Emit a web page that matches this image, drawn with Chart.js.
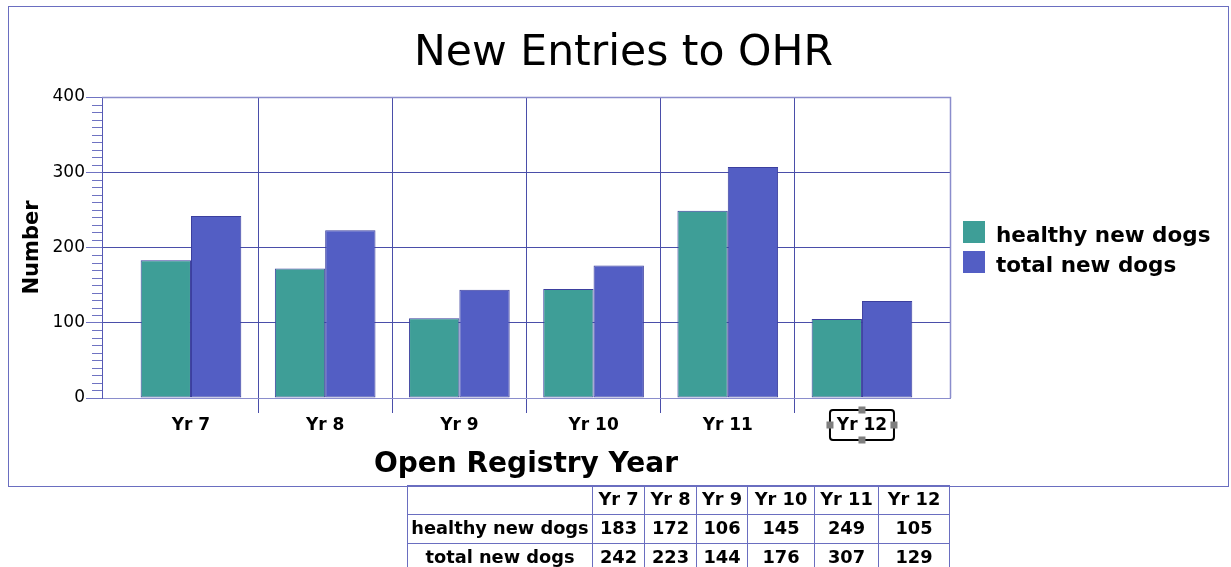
<!DOCTYPE html>
<html>
<head>
<meta charset="utf-8">
<title>New Entries to OHR</title>
<script src="https://cdn.jsdelivr.net/npm/chart.js@4.4.1/dist/chart.umd.min.js"></script>
<style>
  html, body { margin: 0; padding: 0; background: #fff; overflow: hidden; }
  body { width: 1231px; height: 567px; position: relative; font-family: "DejaVu Sans", Verdana, sans-serif; }
  #chart { position: absolute; left: 0; top: 0; }
  #frame {
    position: absolute; left: 8px; top: 6px; width: 1221px; height: 481px;
    box-sizing: border-box; border: 1px solid #6a6ec0; pointer-events: none;
  }
  #dataTable {
    position: absolute; left: 407px; top: 485px;
    border-collapse: collapse; table-layout: fixed;
    font: bold 17.8px "DejaVu Sans", Verdana, sans-serif; color: #000;
  }
  #dataTable td {
    border: 1px solid #6a6ec0; height: 25px; padding: 0 0 3px 0;
    text-align: center; white-space: nowrap;
  }
</style>
</head>
<body>
<canvas id="chart" width="1231" height="487"></canvas>
<div id="frame"></div>
<table id="dataTable"></table>
<script>
// data
const years = ['Yr 7', 'Yr 8', 'Yr 9', 'Yr 10', 'Yr 11', 'Yr 12'];
const healthyNewDogs = [183, 172, 106, 145, 249, 105];
const totalNewDogs = [242, 223, 144, 176, 307, 129];
const seriesNames = ['healthy new dogs', 'total new dogs'];
const yMin = 0, yMax = 400, yStep = 100, yMinorStep = 10;

const GRID = '#4a4ea9';
const FRAME = '#8a8dcc';
const tableColWidths = [185, 52, 52, 51, 67, 64, 71];

// build the data table under the chart
function buildTable() {
  const table = document.getElementById('dataTable');
  const cg = document.createElement('colgroup');
  tableColWidths.forEach(w => {
    const c = document.createElement('col');
    c.style.width = w + 'px';
    cg.appendChild(c);
  });
  table.appendChild(cg);
  const rows = [[''].concat(years), [seriesNames[0]].concat(healthyNewDogs), [seriesNames[1]].concat(totalNewDogs)];
  rows.forEach(r => {
    const tr = document.createElement('tr');
    r.forEach(v => {
      const td = document.createElement('td');
      td.textContent = v;
      tr.appendChild(td);
    });
    table.appendChild(tr);
  });
}
buildTable();

// plot frame, minor y ticks, legend and the selection box round the last label
const decorations = {
  id: 'decorations',
  beforeDatasetsDraw(chart) {
    const { ctx, chartArea: a } = chart;
    ctx.save();
    ctx.strokeStyle = FRAME;
    ctx.lineWidth = 1.5;
    ctx.beginPath();
    ctx.moveTo(a.left, a.top + 0.5);
    ctx.lineTo(a.right + 0.5, a.top + 0.5);
    ctx.lineTo(a.right + 0.5, a.bottom);
    ctx.stroke();
    ctx.restore();
  },
  afterDraw(chart) {
    const { ctx, chartArea: a } = chart;
    const ys = chart.scales.y, xs = chart.scales.x;
    ctx.save();
    ctx.strokeStyle = '#6f73c2';
    ctx.lineWidth = 1;
    ctx.beginPath();
    for (let v = yMin + yMinorStep; v < yMax; v += yMinorStep) {
      if (v % yStep === 0) continue;
      const y = Math.round(ys.getPixelForValue(v)) + 0.5;
      ctx.moveTo(a.left - 10, y);
      ctx.lineTo(a.left, y);
    }
    ctx.stroke();

    // legend, right of the plot, centred on it
    const lx = a.right + 13;
    const ly = (a.top + a.bottom) / 2 - 26.5;
    ctx.font = 'bold 21.5px "DejaVu Sans"';
    ctx.textBaseline = 'alphabetic';
    ctx.textAlign = 'left';
    chart.data.datasets.forEach((ds, i) => {
      const top = ly + i * 30;
      ctx.fillStyle = ds.backgroundColor;
      ctx.fillRect(lx, top, 22, 22);
      ctx.fillStyle = '#000';
      ctx.fillText(ds.label, lx + 33, top + 20.5);
    });

    // selection box
    const cx = xs.getPixelForValue(years.length - 1);
    const top = xs.top + 12, h = 30, w = 64;
    ctx.strokeStyle = '#000';
    ctx.lineWidth = 2;
    ctx.beginPath();
    ctx.roundRect(cx - w / 2, top, w, h, 3);
    ctx.stroke();
    ctx.fillStyle = '#7f7f7f';
    [[cx, top], [cx, top + h], [cx - w / 2, top + h / 2], [cx + w / 2, top + h / 2]].forEach(p => {
      ctx.fillRect(p[0] - 3.5, p[1] - 3.5, 7, 7);
    });
    ctx.restore();
  }
};

const xGridColor = ctx => (ctx.type === 'tick' && ctx.index > 0) ? GRID : 'rgba(0,0,0,0)';

new Chart(document.getElementById('chart'), {
  type: 'bar',
  data: {
    datasets: [
      {
        label: seriesNames[0],
        data: healthyNewDogs.map((v, i) => ({ x: i, y: v })),
        backgroundColor: '#3e9e97',
        borderColor: '#3b3f9e',
        borderWidth: 1,
        borderSkipped: false
      },
      {
        label: seriesNames[1],
        data: totalNewDogs.map((v, i) => ({ x: i, y: v })),
        backgroundColor: '#535ec4',
        borderColor: '#3b3f9e',
        borderWidth: 1,
        borderSkipped: false
      }
    ]
  },
  options: {
    responsive: false,
    animation: false,
    categoryPercentage: 0.75,
    barPercentage: 1,
    layout: { padding: { left: 16, right: 0, top: 0, bottom: 0 } },
    scales: {
      x: {
        type: 'linear',
        offset: false,
        min: -0.663,
        max: 5.656,
        afterBuildTicks: s => { s.ticks = years.map((_, i) => ({ value: i })); },
        afterFit: s => { s.height = 89; },
        ticks: {
          autoSkip: false,
          maxRotation: 0,
          padding: 2,
          color: '#000',
          font: { family: 'DejaVu Sans', size: 17, weight: 'bold' },
          callback: v => years[v]
        },
        grid: { offset: true, color: xGridColor, tickColor: xGridColor, tickLength: 15, lineWidth: 1 },
        border: { color: FRAME, width: 1 },
        title: {
          display: true,
          text: 'Open Registry Year',
          color: '#000',
          font: { family: 'DejaVu Sans', size: 28, weight: 'bold' },
          padding: { top: 4, bottom: 5 }
        }
      },
      y: {
        min: yMin,
        max: yMax,
        afterFit: s => { s.width = 86; },
        ticks: {
          stepSize: yStep,
          padding: 1,
          color: '#000',
          font: { family: 'DejaVu Sans', size: 17 }
        },
        grid: {
          color: ctx => (ctx.tick && (ctx.tick.value === yMax || ctx.tick.value === yMin)) ? 'rgba(0,0,0,0)' : GRID,
          tickColor: '#6f73c2',
          tickLength: 16
        },
        border: { color: '#5559b5', width: 1 },
        title: {
          display: true,
          text: 'Number',
          color: '#000',
          font: { family: 'DejaVu Sans', size: 21, weight: 'bold' },
          padding: { top: 4, bottom: 4 }
        }
      },
      // empty strip on the right where the legend is drawn
      legendSpace: {
        position: 'right',
        display: true,
        afterFit: s => { s.width = 281; },
        grid: { display: false },
        ticks: { display: false },
        border: { display: false }
      }
    },
    plugins: {
      title: {
        display: true,
        text: 'New Entries to OHR',
        color: '#000',
        font: { family: 'DejaVu Sans', size: 42.5, weight: 'normal' },
        padding: { top: 28, bottom: 18 }
      },
      legend: { display: false },
      tooltip: { enabled: false }
    }
  },
  plugins: [decorations]
});
</script>
</body>
</html>
